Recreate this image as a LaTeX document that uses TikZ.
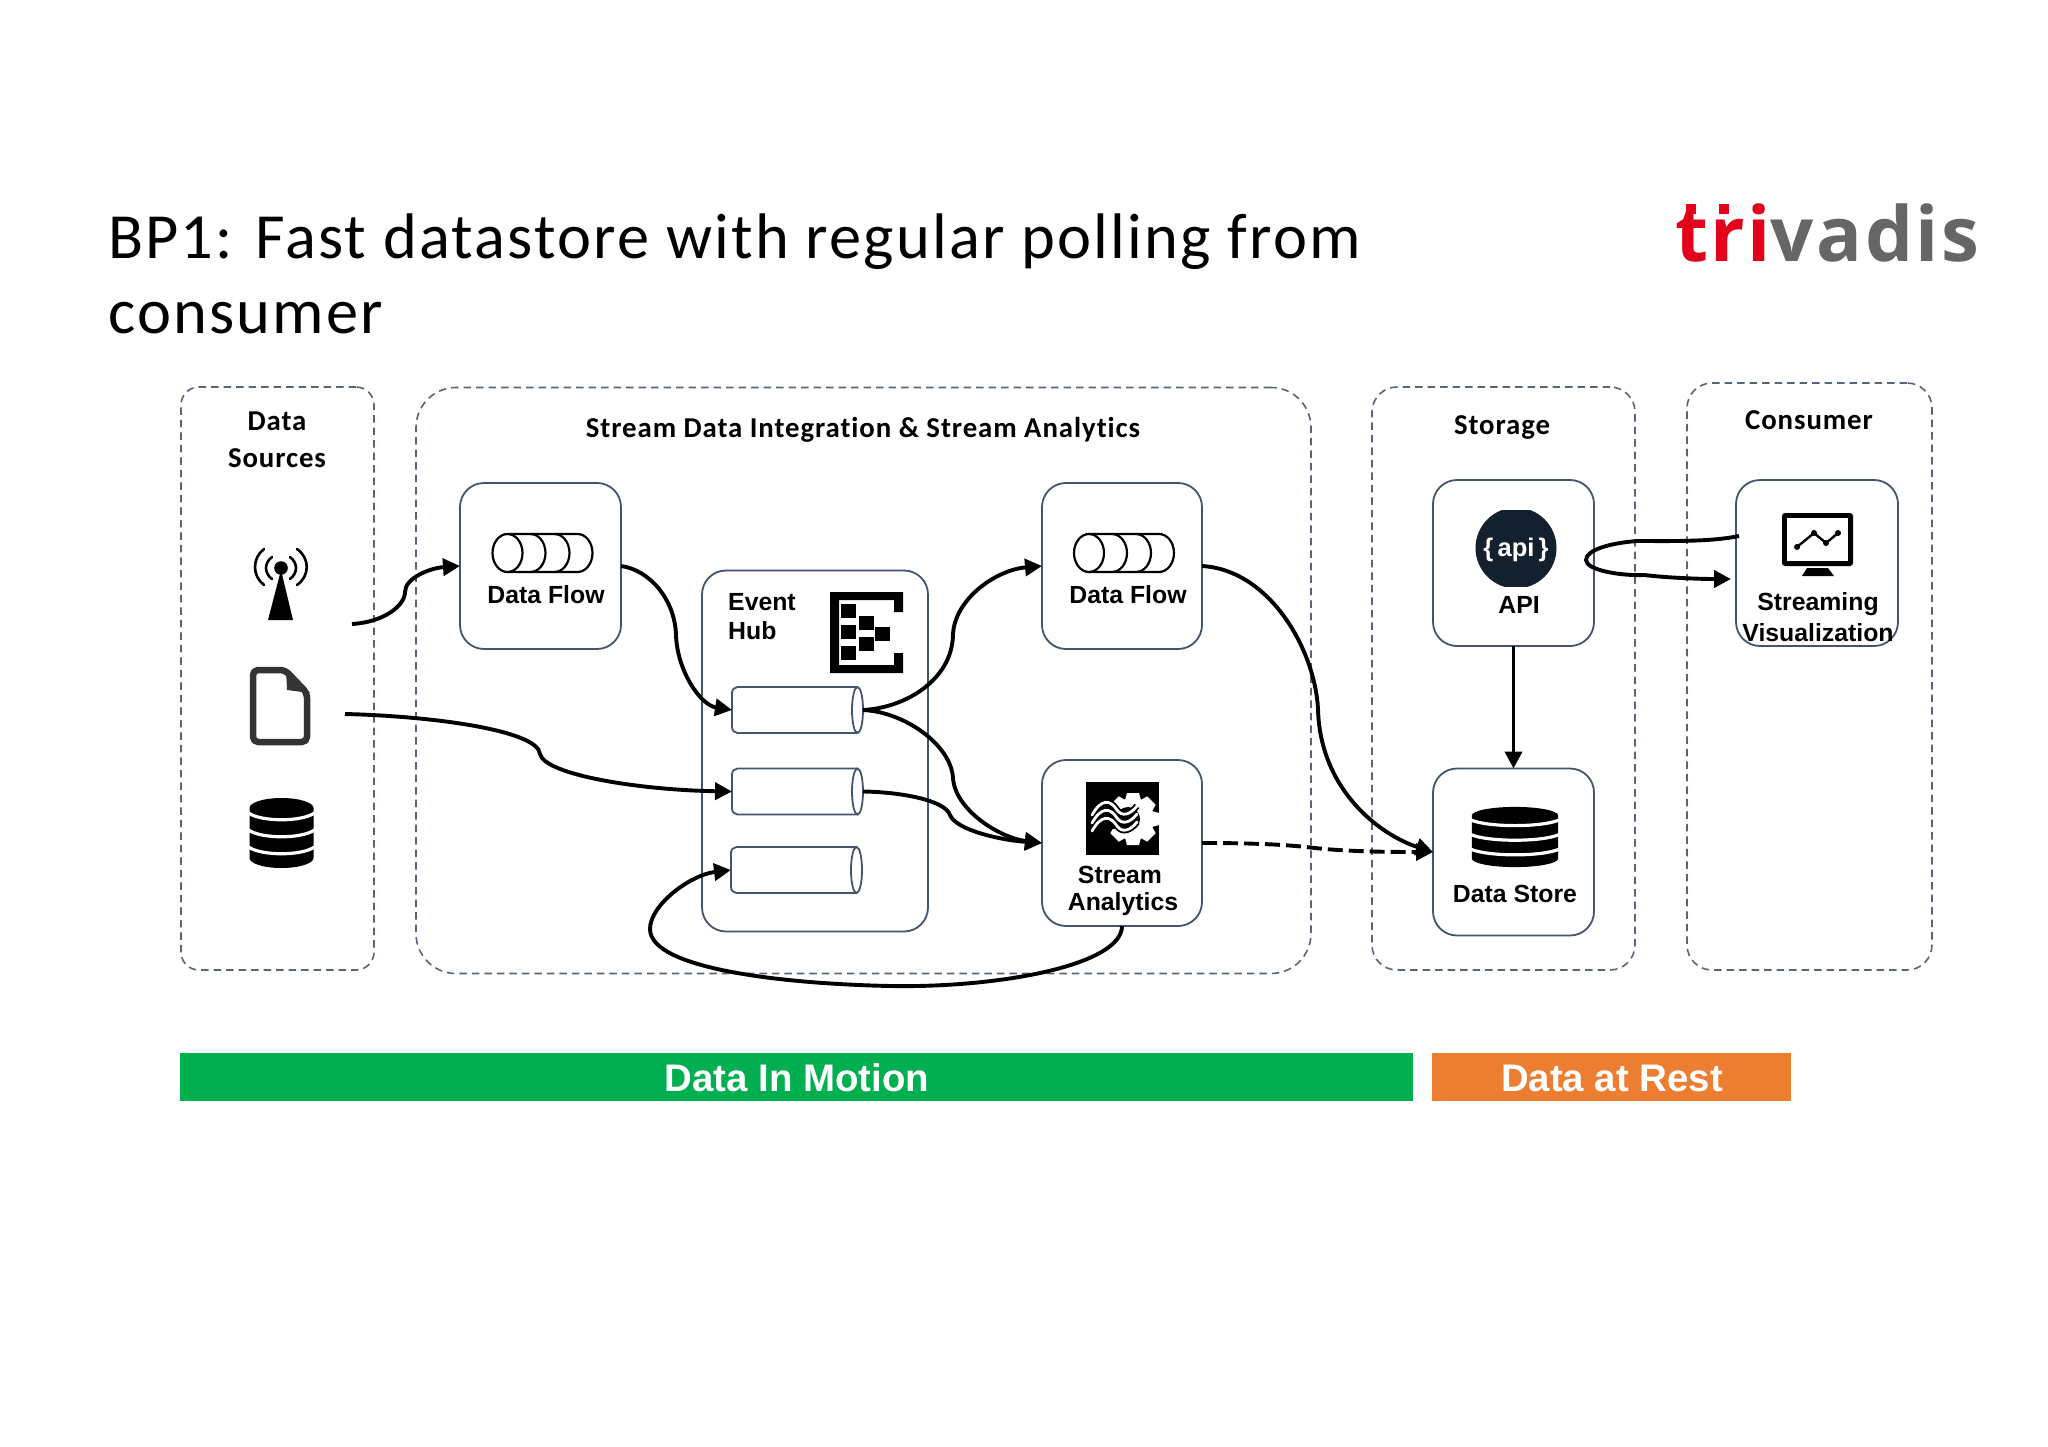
\documentclass[tikz,border=0pt]{standalone}
\usepackage{fontspec}
\setmainfont{Liberation Sans}
\newfontfamily\titlefont[LetterSpace=3.4]{Carlito}
\newfontfamily\headfont[LetterSpace=3.2,Ligatures=NoCommon]{Carlito}
\newfontfamily\logofont[LetterSpace=3.3]{Open Sans}
\usetikzlibrary{arrows.meta}
\definecolor{slate}{HTML}{44546A}
\definecolor{dashgrey}{HTML}{5A6478}
\definecolor{bargreen}{HTML}{00B050}
\definecolor{barorange}{HTML}{ED7D31}
\definecolor{logored}{HTML}{E2001A}
\definecolor{logogrey}{HTML}{666666}
\definecolor{apidark}{HTML}{14202E}
\definecolor{filedark}{HTML}{333333}
\tikzset{
  x=1pt,y=-1pt,
  zone/.style={draw=dashgrey,line width=1.6pt,dash pattern=on 7.5pt off 5pt,rounded corners=#1,inner sep=0,outer sep=0},
  comp/.style={draw=slate,line width=1.8pt,rounded corners=24pt,inner sep=0,outer sep=0},
  cylbox/.style={minimum width=131pt,minimum height=46pt,inner sep=0,outer sep=0},
  lab/.style={font=\fontsize{24.8}{28}\selectfont\bfseries,inner sep=0,text=black},
  head/.style={font=\headfont\fontsize{28.8}{32}\selectfont\bfseries,inner sep=0,text=black},
  flow/.style={line width=3.9pt,-{Triangle[length=17pt,width=17pt]},black},
  barlab/.style={font=\fontsize{38.4}{42}\selectfont\bfseries,text=white,inner sep=0},
  dataflowicon/.pic={
    \draw[line width=2.2pt,black,fill=white] (-35,-19) -- (35,-19) arc[start angle=-90,end angle=90,x radius=15,y radius=19] -- (-35,19) arc[start angle=90,end angle=270,x radius=15,y radius=19] -- cycle;
    \draw[line width=2.2pt,black] (-35,-19) arc[start angle=-90,end angle=90,x radius=15,y radius=19];
    \draw[line width=2.2pt,black] (-12,-19) arc[start angle=-90,end angle=90,x radius=15,y radius=19];
    \draw[line width=2.2pt,black] (12,-19) arc[start angle=-90,end angle=90,x radius=15,y radius=19];
  },
  dbicon/.pic={
    \fill[black] (-32,-25) arc[start angle=180,end angle=360,x radius=32,y radius=10] -- (32,25) arc[start angle=0,end angle=180,x radius=32,y radius=10] -- cycle;
    \foreach \yy in {-20,-3,14}
      \draw[white,line width=3.2pt] (-33,\yy) .. controls (-20,\yy+9) and (20,\yy+9) .. (33,\yy);
  },
  cylicon/.pic={
    \draw[slate,line width=1.8pt,fill=white] (60,-23) -- (-60,-23) arc[start angle=270,end angle=180,x radius=5.5,y radius=6] -- (-65.5,17) arc[start angle=180,end angle=90,x radius=5.5,y radius=6] -- (60,23);
    \draw[slate,line width=1.8pt,fill=white] (60,0) ellipse[x radius=5.5,y radius=23];
  },
}
\begin{document}
\begin{tikzpicture}
\useasboundingbox (0,0) rectangle (2048,1447);
\fill[white] (0,0) rectangle (2048,1447);

% title and logo
\node[anchor=base west,inner sep=0,font=\titlefont\fontsize{64.4}{70}\selectfont] (title1) at (108,259) {BP1: Fast datastore with regular polling from};
\node[anchor=base west,inner sep=0,font=\titlefont\fontsize{64.4}{70}\selectfont] (title2) at (108,334) {consumer};
\node[anchor=base west,inner sep=0,font=\logofont\bfseries\fontsize{76}{80}\selectfont] (logo) at (1675,262) {\textcolor{logored}{tri}\textcolor{logogrey}{vadis}};
\fill[logored] (1686,204) rectangle (1696,214);
\fill[logored] (1719,204) rectangle (1729,214);

% zones
\node[zone=18pt,minimum width=193pt,minimum height=583pt] (zsrc) at (277.5,678.5) {};
\node[zone=40pt,minimum width=895pt,minimum height=586pt] (zstream) at (863.5,680.5) {};
\node[zone=25pt,minimum width=263pt,minimum height=583pt] (zstore) at (1503.5,678.5) {};
\node[zone=25pt,minimum width=245pt,minimum height=587pt] (zcons) at (1809.5,676.5) {};

\node[head] (hdata) at (277,421.5) {Data};
\node[head] (hsrc) at (277,458) {Sources};
\node[head] (hstream) at (863,430) {Stream Data Integration \& Stream Analytics};
\node[head] (hstore) at (1502,427) {Storage};
\node[head] (hcons) at (1809,420) {Consumer};

% components
\node[comp,minimum width=161pt,minimum height=166pt] (df1) at (540.5,566) {};
\node[comp,minimum width=226pt,minimum height=361pt] (hub) at (815,751) {};
\node[comp,minimum width=160pt,minimum height=166pt] (df2) at (1122,566) {};
\node[comp,minimum width=160pt,minimum height=166pt] (sa) at (1122,843) {};
\node[comp,minimum width=161pt,minimum height=166pt] (api) at (1513.5,563) {};
\node[comp,minimum width=161pt,minimum height=167pt] (ds) at (1513.5,852) {};
\node[comp,minimum width=162pt,minimum height=166pt] (viz) at (1817,563) {};

% cylinders
\node[cylbox] (c1) at (797.5,710) {};
\node[cylbox] (c2) at (797.5,791.5) {};
\node[cylbox] (c3) at (796.5,870) {};
\pic at (c1.center) {cylicon};
\pic at (c2.center) {cylicon};
\pic at (c3.center) {cylicon};

% labels
\node[lab] (ldf1) at (546,595) {Data Flow};
\node[lab] (ldf2) at (1128,595) {Data Flow};
\node[lab,anchor=west] (lev) at (728,602) {Event};
\node[lab,anchor=west] (lhub) at (728,631) {Hub};
\node[lab] (lapi) at (1519,605) {API};
\node[lab] (lstr) at (1818,604) {Streaming};
\node[lab] (lvis) at (1818,633) {Visualization};
\node[lab] (lsa1) at (1120,875) {Stream};
\node[lab] (lsa2) at (1123,904) {Analytics};
\node[lab] (lds) at (1515,894) {Data Store};

% bars
\node[fill=bargreen,minimum width=1233pt,minimum height=48pt,inner sep=0,outer sep=0] (barA) at (796.5,1077) {};
\node[fill=barorange,minimum width=359pt,minimum height=48pt,inner sep=0,outer sep=0] (barB) at (1611,1077) {};
\node[barlab] (tA) at (797,1078) {Data In Motion};
\node[barlab] (tB) at (1612,1078) {Data at Rest};

% icons: data flow
\pic at (542.5,553) {dataflowicon};
\pic at (1124,553) {dataflowicon};

% antenna
\fill[black] (281,570) -- (293,620) -- (268,620) -- cycle;
\fill[black] (281,568) circle[radius=6.8];
\draw[black,line width=2.6pt,line cap=round] (272,557) .. controls (264,563) and (264,573) .. (272,579);
\draw[black,line width=2.6pt,line cap=round] (290,557) .. controls (298,563) and (298,573) .. (290,579);
\draw[black,line width=2.6pt,line cap=round] (264,549) .. controls (252,558) and (252,576) .. (264,585);
\draw[black,line width=2.6pt,line cap=round] (297,549) .. controls (310,558) and (310,576) .. (297,585);

% file
\draw[filedark,line width=6.5pt,line join=round,rounded corners=5pt] (253,670) -- (285,670) -- (307,693) -- (307,742) -- (253,742) -- cycle;
\fill[filedark] (286,668) -- (310,693) -- (287,690) -- cycle;

% databases
\pic at (281.5,833) {dbicon};
\pic[xscale=1.35,yscale=.86] at (1515,837) {dbicon};

% event hub icon
\fill[black] (903,592) -- (830,592) -- (830,673) -- (903,673) -- (903,653) -- (894,653) -- (894,665) -- (839,665) -- (839,600) -- (894,600) -- (894,612) -- (903,612) -- cycle;
\foreach \xa/\ya in {841/604,859/616,841/625,875/627,859/637,841/646}
  \fill[black] (\xa,\ya) rectangle +(15,14);

% stream analytics icon
\fill[black] (1086,782) rectangle (1159,855);
\fill[white] (1133,819) circle[radius=21];
\foreach \a in {0,45,...,315}
  \fill[white,rotate around={\a:(1133,819)}] (1127,793) -- (1139,793) -- (1142,804) -- (1124,804) -- cycle;
\fill[black] (1128,819) circle[radius=12];
\fill[black] (1092,809) rectangle (1128,829);
\foreach \dy in {-8,0,8}{
  \draw[black,line width=6.5pt] (1092,823+\dy) .. controls (1101,807+\dy) and (1110,807+\dy) .. (1117,818+\dy) .. controls (1122,825+\dy) and (1130,823+\dy) .. (1137,814+\dy);
}
\foreach \dy in {-8,0,8}{
  \draw[white,line width=2.8pt,line cap=round] (1092,823+\dy) .. controls (1101,807+\dy) and (1110,807+\dy) .. (1117,818+\dy) .. controls (1122,825+\dy) and (1130,823+\dy) .. (1137,814+\dy);
}

% api icon
\begin{scope}
  \clip (1470,510) rectangle (1560,586);
  \fill[apidark] (1516,548) circle[radius=40.5];
\end{scope}
\node[inner sep=0,text=white,font=\fontsize{25.5}{28}\selectfont\bfseries] (apit) at (1516,550) {\{\,api\,\}};

% visualization icon
\fill[black,rounded corners=3pt] (1782,513) rectangle (1853,566);
\fill[white] (1787,518) rectangle (1848,561);
\fill[black] (1807,568) -- (1828,568) -- (1834,576) -- (1802,576) -- cycle;
\draw[black,line width=2.4pt] (1797,547) -- (1814,533) -- (1826,543) -- (1838,533);
\foreach \px/\py in {1797/547,1814/533,1826/543,1838/533}
  \fill[black] (\px,\py) circle[radius=3];

% free connector ends
\coordinate (srcRadio) at (352,624);
\coordinate (srcFile) at (345,714);
\coordinate (vizOut) at (1739,536);
\coordinate (vizIn) at (1731,579);

% connectors
\draw[flow] (srcRadio) .. controls (385,622) and (405,605) .. (405,592) .. controls (405,578) and (430,568) .. (df1.west);
\draw[flow] (df1.east) .. controls (650,570) and (675,600) .. (676,635) .. controls (677,670) and (700,705) .. (c1.west);
\draw[flow] (srcFile) .. controls (430,716) and (538,730) .. (540,754) .. controls (545,775) and (640,790) .. (c2.west);
\draw[flow] (sa.south) .. controls (1122,965) and (1000,988) .. (890,986) .. controls (790,984) and (650,970) .. (650,929) .. controls (650,905) and (690,875) .. (c3.west);
\draw[flow] (c1.east) .. controls (905,708) and (952,680) .. (953,635) .. controls (954,600) and (995,570) .. (df2.west);
\draw[flow] (c1.east) .. controls (905,712) and (951,745) .. (953,778) .. controls (955,810) and (1000,838) .. (sa.west);
\draw[flow] (c2.east) .. controls (900,792) and (945,800) .. (950,815) .. controls (956,830) and (1000,840) .. (sa.west);
\draw[flow] (df2.east) .. controls (1270,570) and (1315,650) .. (1318,709) .. controls (1320,790) and (1380,835) .. (ds.west);
\draw[flow,dash pattern=on 15pt off 6pt] (sa.east) .. controls (1260,843) and (1290,845) .. (1315,848) .. controls (1350,852) and (1400,852) .. (ds.west);
\draw[flow] (api.south) -- (ds.north);
\draw[flow] (vizOut) .. controls (1710,542) and (1670,541) .. (1637,541) .. controls (1610,543) and (1586,550) .. (1586,560) .. controls (1586,570) and (1620,576) .. (1644,575) .. controls (1670,578) and (1700,579) .. (vizIn);
\end{tikzpicture}
\end{document}
